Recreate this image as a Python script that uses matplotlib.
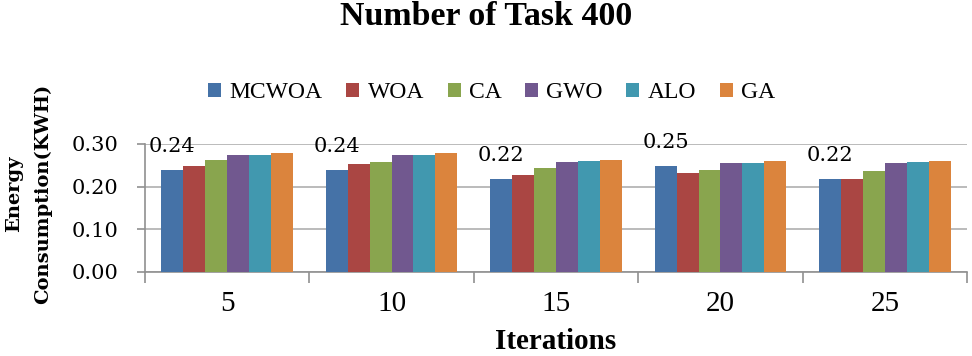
import matplotlib
matplotlib.use("Agg")
import matplotlib.pyplot as plt
import numpy as np

categories = ["5", "10", "15", "20", "25"]
series_names = ["MCWOA", "WOA", "CA", "GWO", "ALO", "GA"]
MCWOA = [0.238, 0.238, 0.218, 0.248, 0.218]
WOA = [0.248, 0.253, 0.228, 0.231, 0.218]
CA = [0.262, 0.258, 0.244, 0.238, 0.236]
GWO = [0.273, 0.273, 0.257, 0.254, 0.255]
ALO = [0.275, 0.275, 0.259, 0.256, 0.258]
GA = [0.278, 0.278, 0.262, 0.259, 0.260]
mcwoa_labels = ["0.24", "0.24", "0.22", "0.25", "0.22"]
yticks = [0.00, 0.10, 0.20, 0.30]

colors = ["#4572A7", "#AA4643", "#89A54E", "#71588F", "#4198AF", "#DB843D"]
data = [MCWOA, WOA, CA, GWO, ALO, GA]

fig = plt.figure(figsize=(9.72, 3.56), dpi=100)
ax = fig.add_axes([0.149, 0.236, 0.846, 0.360])

x = np.arange(len(categories))
n = len(series_names)
bw = 0.8 / n
for i, (name, vals) in enumerate(zip(series_names, data)):
    ax.bar(x - 0.4 + bw * (i + 0.5), vals, width=bw, color=colors[i],
           label=name, edgecolor="none", zorder=3)

for xi, v, lab in zip(x, MCWOA, mcwoa_labels):
    ax.text(xi - 0.4 + bw * 0.5, v + 0.055, lab, ha="center", va="center",
            fontsize=15, family="DejaVu Serif", zorder=4)

ax.set_xlim(-0.5, len(categories) - 0.5)
ax.set_ylim(0, 0.30)
ax.set_yticks(yticks)
ax.set_yticklabels([f"{t:.2f}" for t in yticks], family="DejaVu Serif", fontsize=15)
ax.yaxis.grid(True, color="#a8a8a8", linewidth=1.1, zorder=0)
ax.set_axisbelow(True)

ax.set_xticks(x)
ax.set_xticklabels(categories, family="Liberation Serif", fontsize=21)
ax.tick_params(axis="x", which="major", length=0, pad=14)
ax.set_xticks(np.arange(-0.5, len(categories)), minor=True)
ax.tick_params(axis="x", which="minor", length=8, color="#909090", width=1.2)
ax.tick_params(axis="y", length=6, color="#909090", width=1.2, pad=13)

for s in ["top", "right"]:
    ax.spines[s].set_visible(False)
for s in ["left", "bottom"]:
    ax.spines[s].set_color("#909090")
    ax.spines[s].set_linewidth(1.2)

fig.text(0.572, 1 - 349 / 356, "Iterations", ha="center", va="baseline",
         family="Liberation Serif", fontweight="bold", fontsize=21)
fig.text(0.029, 0.455, "Energy\nConsumption(KWH)", rotation=90, ha="center",
         va="center", family="DejaVu Serif", fontweight="bold", fontsize=14,
         linespacing=1.75)

fig.text(0.5, 1 - 25 / 356, "Number of Task 400", ha="center", va="baseline",
         family="Liberation Serif", fontweight="bold", fontsize=24.4)

leg = fig.legend(loc="center", ncol=6, frameon=False,
                 prop={"family": "Liberation Serif", "size": 17},
                 handlelength=0.55, handleheight=0.55, handletextpad=0.35,
                 columnspacing=1.0)
leg.set_bbox_to_anchor((0.506, 1 - 93 / 356), transform=fig.transFigure)

fig.savefig("out.png", dpi=100)
